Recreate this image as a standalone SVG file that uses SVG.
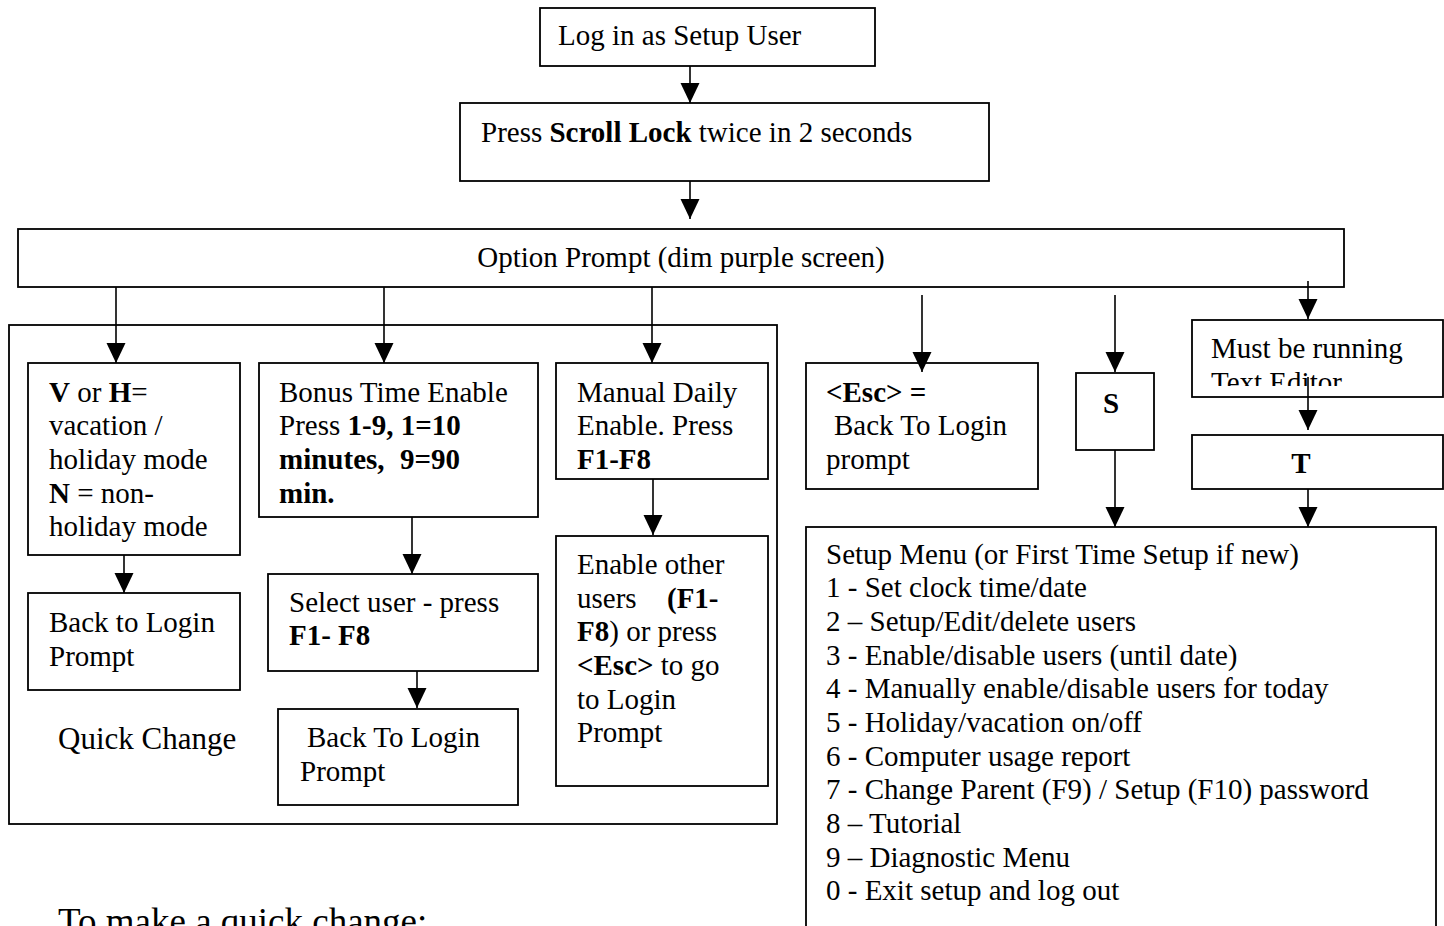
<svg xmlns="http://www.w3.org/2000/svg" width="1444" height="926" viewBox="0 0 1444 926">
<style>
.box{fill:#fff;stroke:#000;stroke-width:1.8}
.t{font-family:"Liberation Serif","Times New Roman",serif;font-size:29px;fill:#000}
.b{font-weight:bold}
.c{fill:none;stroke:#000;stroke-width:1.6}
</style>
<defs>
<marker id="ah" markerUnits="userSpaceOnUse" markerWidth="20" markerHeight="20" refX="20" refY="9.5" orient="auto">
<path d="M0,0 L20,9.5 L0,19 z" fill="#000"/>
</marker>
<clipPath id="clipMust"><rect x="1192" y="320" width="252" height="66"/></clipPath>
</defs>
<rect width="1444" height="926" fill="#fff"/>

<g id="quickchange-frame">
<rect class="box" x="9" y="325" width="768" height="499"/>
<text class="t" x="58" y="749" style="font-size:31px">Quick Change</text>
</g>

<g id="login">
<rect class="box" x="540" y="8" width="335" height="58"/>
<text class="t" x="558" y="45">Log in as Setup User</text>
</g>

<g id="scroll">
<rect class="box" x="460" y="103" width="529" height="78"/>
<text class="t" x="481" y="142">Press <tspan class="b">Scroll Lock</tspan> twice in 2 seconds</text>
</g>

<g id="option">
<rect class="box" x="18" y="229" width="1326" height="58"/>
<text class="t" x="681" y="267" text-anchor="middle">Option Prompt (dim purple screen)</text>
</g>

<g id="vh">
<rect class="box" x="28" y="363" width="212" height="192"/>
<text class="t"><tspan x="49" y="402"><tspan class="b">V</tspan> or <tspan class="b">H</tspan>=</tspan><tspan x="49" y="435">vacation /</tspan><tspan x="49" y="469">holiday mode</tspan><tspan x="49" y="503"><tspan class="b">N</tspan> = non-</tspan><tspan x="49" y="536">holiday mode</tspan></text>
</g>

<g id="back1">
<rect class="box" x="28" y="593" width="212" height="97"/>
<text class="t"><tspan x="49" y="632">Back to Login</tspan><tspan x="49" y="666">Prompt</tspan></text>
</g>

<g id="bonus">
<rect class="box" x="259" y="363" width="279" height="154"/>
<text class="t"><tspan x="279" y="402">Bonus Time Enable</tspan><tspan x="279" y="435">Press <tspan class="b">1-9, 1=10</tspan></tspan><tspan x="279" y="469" class="b">minutes,</tspan><tspan x="400" y="469" class="b">9=90</tspan><tspan x="279" y="503" class="b">min.</tspan></text>
</g>

<g id="selectuser">
<rect class="box" x="268" y="574" width="270" height="97"/>
<text class="t"><tspan x="289" y="612">Select user - press</tspan><tspan x="289" y="645" class="b">F1- F8</tspan></text>
</g>

<g id="back2">
<rect class="box" x="278" y="709" width="240" height="96"/>
<text class="t"><tspan x="307" y="747">Back To Login</tspan><tspan x="300" y="781">Prompt</tspan></text>
</g>

<g id="manual">
<rect class="box" x="556" y="363" width="212" height="116"/>
<text class="t"><tspan x="577" y="402">Manual Daily</tspan><tspan x="577" y="435">Enable. Press</tspan><tspan x="577" y="469" class="b">F1-F8</tspan></text>
</g>

<g id="enableother">
<rect class="box" x="556" y="536" width="212" height="250"/>
<text class="t"><tspan x="577" y="574">Enable other</tspan><tspan x="577" y="608">users</tspan><tspan x="667" y="608" class="b">(F1-</tspan><tspan x="577" y="641"><tspan class="b">F8</tspan>) or press</tspan><tspan x="577" y="675"><tspan class="b">&lt;Esc&gt;</tspan> to go</tspan><tspan x="577" y="709">to Login</tspan><tspan x="577" y="742">Prompt</tspan></text>
</g>

<g id="esc">
<rect class="box" x="806" y="363" width="232" height="126"/>
<text class="t"><tspan x="826" y="402" class="b">&lt;Esc&gt; =</tspan><tspan x="834" y="435">Back To Login</tspan><tspan x="826" y="469">prompt</tspan></text>
</g>

<g id="s">
<rect class="box" x="1076" y="373" width="78" height="77"/>
<text class="t b" x="1103" y="413">S</text>
</g>

<g id="must">
<rect class="box" x="1192" y="320" width="251" height="77"/>
<text class="t" clip-path="url(#clipMust)"><tspan x="1211" y="358">Must be running</tspan><tspan x="1211" y="392">Text Editor</tspan></text>
</g>

<g id="t">
<rect class="box" x="1192" y="435" width="251" height="54"/>
<text class="t b" x="1301" y="473" text-anchor="middle">T</text>
</g>

<g id="setupmenu">
<rect class="box" x="806" y="527" width="630" height="420"/>
<text class="t"><tspan x="826" y="564">Setup Menu (or First Time Setup if new)</tspan><tspan x="826" y="597">1 - Set clock time/date</tspan><tspan x="826" y="631">2 – Setup/Edit/delete users</tspan><tspan x="826" y="665">3 - Enable/disable users (until date)</tspan><tspan x="826" y="698">4 - Manually enable/disable users for today</tspan><tspan x="826" y="732">5 - Holiday/vacation on/off</tspan><tspan x="826" y="766">6 - Computer usage report</tspan><tspan x="826" y="799">7 - Change Parent (F9) / Setup (F10) password</tspan><tspan x="826" y="833">8 – Tutorial</tspan><tspan x="826" y="867">9 – Diagnostic Menu</tspan><tspan x="826" y="900">0 - Exit setup and log out</tspan></text>
</g>

<g id="footer">
<text class="t" x="58" y="934" style="font-size:37px">To make a quick change:</text>
</g>

<g id="connectors">
<path class="c" d="M690,66 V103" marker-end="url(#ah)"/>
<path class="c" d="M690,181 V219" marker-end="url(#ah)"/>
<path class="c" d="M116,287 V363" marker-end="url(#ah)"/>
<path class="c" d="M384,287 V363" marker-end="url(#ah)"/>
<path class="c" d="M652,287 V363" marker-end="url(#ah)"/>
<path class="c" d="M922,295 V372" marker-end="url(#ah)"/>
<path class="c" d="M1115,295 V372" marker-end="url(#ah)"/>
<path class="c" d="M1308,281 V319" marker-end="url(#ah)"/>
<path class="c" d="M124,555 V593" marker-end="url(#ah)"/>
<path class="c" d="M412,517 V574" marker-end="url(#ah)"/>
<path class="c" d="M417,671 V708" marker-end="url(#ah)"/>
<path class="c" d="M653,479 V535" marker-end="url(#ah)"/>
<path class="c" d="M1115,450 V527" marker-end="url(#ah)"/>
<path class="c" d="M1308,377 V430" marker-end="url(#ah)"/>
<path class="c" d="M1308,489 V527" marker-end="url(#ah)"/>
</g>
</svg>
